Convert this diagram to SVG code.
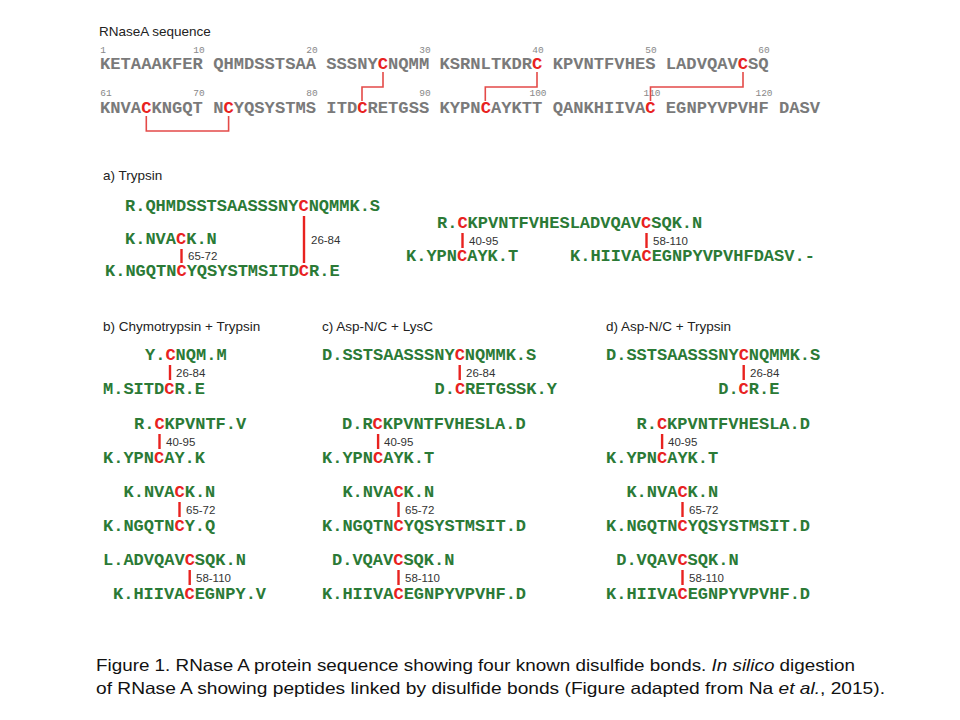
<svg xmlns="http://www.w3.org/2000/svg" width="960" height="720" viewBox="0 0 960 720">
<style>
.seq{font-family:"Liberation Mono","Courier New",monospace;font-weight:bold;font-size:17.15px;fill:#7a7a7a}
.num{font-family:"Liberation Mono","Courier New",monospace;font-size:9.5px;fill:#888;text-anchor:middle}
.pep{font-family:"Liberation Mono","Courier New",monospace;font-weight:bold;font-size:17px;fill:#2b7a36}
.r{fill:#e8221f}
.ttl{font-family:"Liberation Sans",Arial,sans-serif;font-size:13.5px;fill:#222}
.lbl{font-family:"Liberation Sans",Arial,sans-serif;font-size:11.5px;fill:#333}
.br{fill:none;stroke:#e44a48;stroke-width:1.6}
.bd{stroke:#e8221f;stroke-width:2.4}
.cap{font-family:"Liberation Sans",Arial,sans-serif;font-size:16.5px;fill:#111}
</style>
<rect width="960" height="720" fill="#fff"/>

<g id="sequence">
<text class="ttl" x="99" y="36">RNaseA sequence</text>
<g id="nums1">
<text class="num" x="103" y="53">1</text>
<text class="num" x="199" y="53">10</text>
<text class="num" x="312" y="53">20</text>
<text class="num" x="425" y="53">30</text>
<text class="num" x="538" y="53">40</text>
<text class="num" x="651" y="53">50</text>
<text class="num" x="764" y="53">60</text>
</g>
<text class="seq" x="100" y="69">KETAAAKFER QHMDSSTSAA SSSNY<tspan class="r">C</tspan>NQMM KSRNLTKDR<tspan class="r">C</tspan> KPVNTFVHES LADVQAV<tspan class="r">C</tspan>SQ</text>
<g id="nums2">
<text class="num" x="106" y="96">61</text>
<text class="num" x="199" y="96">70</text>
<text class="num" x="312" y="96">80</text>
<text class="num" x="425" y="96">90</text>
<text class="num" x="538" y="96">100</text>
<text class="num" x="652" y="96">110</text>
<text class="num" x="764" y="96">120</text>
</g>
<text class="seq" x="100" y="113">KNVA<tspan class="r">C</tspan>KNGQT N<tspan class="r">C</tspan>YQSYSTMS ITD<tspan class="r">C</tspan>RETGSS KYPN<tspan class="r">C</tspan>AYKTT QANKHIIVA<tspan class="r">C</tspan> EGNPYVPVHF DASV</text>
</g>

<g id="panel-a">
<text class="ttl" x="103" y="180">a) Trypsin</text>
<g id="a1"><text class="pep" x="125" y="211">R.QHMDSSTSAASSSNY<tspan class="r">C</tspan>NQMMK.S</text></g>
<g id="a2"><text class="pep" x="125" y="244">K.NVA<tspan class="r">C</tspan>K.N</text></g>
<g id="a3"><text class="pep" x="105" y="276">K.NGQTN<tspan class="r">C</tspan>YQSYSTMSITD<tspan class="r">C</tspan>R.E</text></g>
<g id="a4"><text class="pep" x="437" y="228">R.<tspan class="r">C</tspan>KPVNTFVHESLADVQAV<tspan class="r">C</tspan>SQK.N</text></g>
<g id="a5"><text class="pep" x="406" y="261">K.YPN<tspan class="r">C</tspan>AYK.T</text></g>
<g id="a6"><text class="pep" x="570" y="261">K.HIIVA<tspan class="r">C</tspan>EGNPYVPVHFDASV.-</text></g>
</g>

<g id="panel-b">
<text class="ttl" x="103" y="331">b) Chymotrypsin + Trypsin</text>
<g id="b1"><text class="pep" x="145" y="360">Y.<tspan class="r">C</tspan>NQM.M</text></g>
<g id="b2"><text class="pep" x="103" y="394">M.SITD<tspan class="r">C</tspan>R.E</text></g>
<g id="b3"><text class="pep" x="134" y="429">R.<tspan class="r">C</tspan>KPVNTF.V</text></g>
<g id="b4"><text class="pep" x="103" y="463">K.YPN<tspan class="r">C</tspan>AY.K</text></g>
<g id="b5"><text class="pep" x="123.5" y="497">K.NVA<tspan class="r">C</tspan>K.N</text></g>
<g id="b6"><text class="pep" x="103" y="531">K.NGQTN<tspan class="r">C</tspan>Y.Q</text></g>
<g id="b7"><text class="pep" x="103" y="565">L.ADVQAV<tspan class="r">C</tspan>SQK.N</text></g>
<g id="b8"><text class="pep" x="113" y="599">K.HIIVA<tspan class="r">C</tspan>EGNPY.V</text></g>
</g>

<g id="panel-c">
<text class="ttl" x="322" y="331">c) Asp-N/C + LysC</text>
<g id="c1"><text class="pep" x="322" y="360">D.SSTSAASSSNY<tspan class="r">C</tspan>NQMMK.S</text></g>
<g id="c2"><text class="pep" x="434.5" y="394">D.<tspan class="r">C</tspan>RETGSSK.Y</text></g>
<g id="c3"><text class="pep" x="342" y="429">D.R<tspan class="r">C</tspan>KPVNTFVHESLA.D</text></g>
<g id="c4"><text class="pep" x="322" y="463">K.YPN<tspan class="r">C</tspan>AYK.T</text></g>
<g id="c5"><text class="pep" x="342.4" y="497">K.NVA<tspan class="r">C</tspan>K.N</text></g>
<g id="c6"><text class="pep" x="322" y="531">K.NGQTN<tspan class="r">C</tspan>YQSYSTMSIT.D</text></g>
<g id="c7"><text class="pep" x="332" y="565">D.VQAV<tspan class="r">C</tspan>SQK.N</text></g>
<g id="c8"><text class="pep" x="322" y="599">K.HIIVA<tspan class="r">C</tspan>EGNPYVPVHF.D</text></g>
</g>

<g id="panel-d">
<text class="ttl" x="606" y="331">d) Asp-N/C + Trypsin</text>
<g id="d1"><text class="pep" x="606" y="360">D.SSTSAASSSNY<tspan class="r">C</tspan>NQMMK.S</text></g>
<g id="d2"><text class="pep" x="718.2" y="394">D.<tspan class="r">C</tspan>R.E</text></g>
<g id="d3"><text class="pep" x="636.5" y="429">R.<tspan class="r">C</tspan>KPVNTFVHESLA.D</text></g>
<g id="d4"><text class="pep" x="606" y="463">K.YPN<tspan class="r">C</tspan>AYK.T</text></g>
<g id="d5"><text class="pep" x="626.4" y="497">K.NVA<tspan class="r">C</tspan>K.N</text></g>
<g id="d6"><text class="pep" x="606" y="531">K.NGQTN<tspan class="r">C</tspan>YQSYSTMSIT.D</text></g>
<g id="d7"><text class="pep" x="616.2" y="565">D.VQAV<tspan class="r">C</tspan>SQK.N</text></g>
<g id="d8"><text class="pep" x="606" y="599">K.HIIVA<tspan class="r">C</tspan>EGNPYVPVHF.D</text></g>
</g>

<g id="connectors">
<polyline class="br" points="383,72 383,87 362,87 362,101"/>
<polyline class="br" points="537,72 537,87 485.3,87 485.3,101"/>
<polyline class="br" points="743,72 743,87 650.5,87 650.5,101"/>
<polyline class="br" points="146.3,116 146.3,131 228.6,131 228.6,116"/>

<line class="bd" x1="304" y1="216" x2="304" y2="263"/>
<text class="lbl" x="311" y="244">26-84</text>
<line class="bd" x1="181.5" y1="249" x2="181.5" y2="263"/>
<text class="lbl" x="188" y="260">65-72</text>
<line class="bd" x1="462.5" y1="233" x2="462.5" y2="248"/>
<text class="lbl" x="469" y="245">40-95</text>
<line class="bd" x1="646.5" y1="233" x2="646.5" y2="248"/>
<text class="lbl" x="653" y="245">58-110</text>

<line class="bd" x1="170" y1="365" x2="170" y2="380"/>
<text class="lbl" x="176" y="377">26-84</text>
<line class="bd" x1="159.5" y1="434" x2="159.5" y2="449"/>
<text class="lbl" x="166" y="446">40-95</text>
<line class="bd" x1="179.5" y1="502" x2="179.5" y2="517"/>
<text class="lbl" x="186" y="514">65-72</text>
<line class="bd" x1="189.7" y1="570" x2="189.7" y2="585"/>
<text class="lbl" x="196" y="582">58-110</text>

<line class="bd" x1="459.7" y1="365" x2="459.7" y2="380"/>
<text class="lbl" x="466" y="377">26-84</text>
<line class="bd" x1="378.1" y1="434" x2="378.1" y2="449"/>
<text class="lbl" x="384" y="446">40-95</text>
<line class="bd" x1="398.5" y1="502" x2="398.5" y2="517"/>
<text class="lbl" x="405" y="514">65-72</text>
<line class="bd" x1="398.5" y1="570" x2="398.5" y2="585"/>
<text class="lbl" x="405" y="582">58-110</text>

<line class="bd" x1="743.7" y1="365" x2="743.7" y2="380"/>
<text class="lbl" x="750" y="377">26-84</text>
<line class="bd" x1="662.1" y1="434" x2="662.1" y2="449"/>
<text class="lbl" x="668" y="446">40-95</text>
<line class="bd" x1="682.5" y1="502" x2="682.5" y2="517"/>
<text class="lbl" x="689" y="514">65-72</text>
<line class="bd" x1="682.5" y1="570" x2="682.5" y2="585"/>
<text class="lbl" x="689" y="582">58-110</text>
</g>

<g id="caption">
<text class="cap" x="96" y="671" textLength="759" lengthAdjust="spacingAndGlyphs">Figure 1. RNase A protein sequence showing four known disulfide bonds. <tspan font-style="italic">In silico</tspan> digestion</text>
<text class="cap" x="96" y="694" textLength="789" lengthAdjust="spacingAndGlyphs">of RNase A showing peptides linked by disulfide bonds (Figure adapted from Na <tspan font-style="italic">et al.</tspan>, 2015).</text>
</g>
</svg>
